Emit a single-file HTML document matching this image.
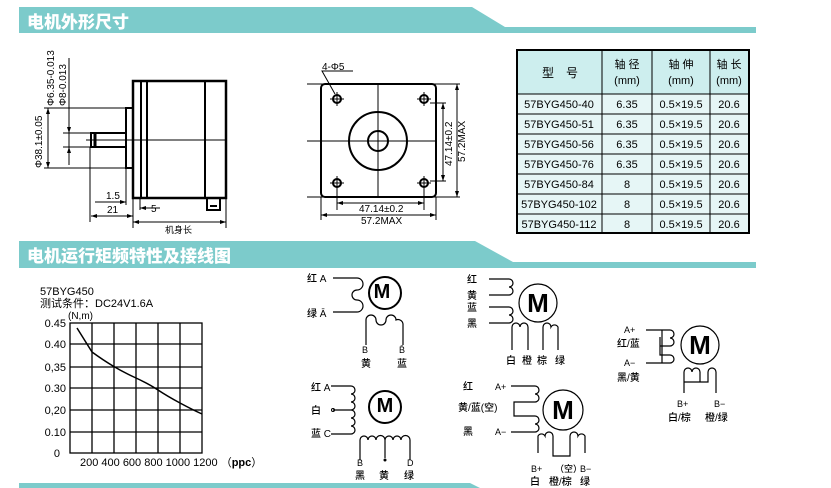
<!DOCTYPE html>
<html><head><meta charset="utf-8"><style>
html,body{margin:0;padding:0;background:#fff;width:831px;height:488px;overflow:hidden}
svg{display:block}
text{font-family:"Liberation Sans","Noto Sans CJK SC",sans-serif;fill:#000}
.h{font-family:"Noto Sans CJK SC","WenQuanYi Zen Hei",sans-serif;font-weight:900;fill:#fff;font-size:17px}
.s{font-size:10px}
.t{font-size:11px}
.w{font-family:"Noto Sans CJK SC",sans-serif;font-weight:500;font-size:10px}
</style></head><body>
<svg width="831" height="488" viewBox="0 0 831 488" xmlns="http://www.w3.org/2000/svg">
<polygon points="19,7 472,7 505,27 756,27 756,33 19,33" fill="#7ccbcb"/>
<text x="27" y="28" class="h">电机外形尺寸</text>
<polygon points="19,241 475,241 513,262 756,262 756,268 19,268" fill="#7ccbcb"/>
<text x="27" y="262" class="h">电机运行矩频特性及接线图</text>
<polygon points="19,483 470,483 480,488 19,488" fill="#7ccbcb"/>

<g stroke="#000" fill="none">
<rect x="133" y="81" width="93" height="117" stroke-width="2.5"/>
<line x1="141" y1="82" x2="141" y2="197" stroke-width="2"/>
<line x1="147" y1="82" x2="147" y2="197" stroke-width="2"/>
<line x1="205" y1="82" x2="205" y2="197" stroke-width="2"/>
<rect x="126" y="108" width="7" height="60" stroke-width="2"/>
<rect x="91" y="133" width="35" height="14" stroke-width="2"/>
<line x1="95" y1="133" x2="95" y2="147" stroke-width="3"/>
<path d="M207 198 v12 h13 v-12 M210 206 h7" stroke-width="2"/>
<line x1="86" y1="140" x2="226" y2="140" stroke-width="1"/>
<g stroke-width="1">
<line x1="44" y1="108" x2="126" y2="108"/><line x1="44" y1="168" x2="126" y2="168"/>
<line x1="48" y1="108" x2="48" y2="168"/>
<line x1="63" y1="133" x2="91" y2="133"/><line x1="63" y1="147" x2="91" y2="147"/>
<line x1="69" y1="58" x2="69" y2="165"/>
<line x1="90" y1="147" x2="90" y2="222"/><line x1="126" y1="168" x2="126" y2="205"/>
<line x1="133" y1="198" x2="133" y2="228"/><line x1="226" y1="198" x2="226" y2="228"/>
<line x1="140" y1="198" x2="140" y2="210"/>
<line x1="95" y1="202" x2="126" y2="202"/>
<line x1="91" y1="216" x2="133" y2="216"/>
<line x1="140" y1="208" x2="160" y2="208"/>
<line x1="133" y1="222" x2="226" y2="222"/>
</g>
<rect x="321" y="84" width="115" height="113" rx="4" stroke-width="2"/>
<line x1="378" y1="84" x2="378" y2="197" stroke-width="1"/>
<line x1="307" y1="141" x2="436" y2="141" stroke-width="1"/>
<circle cx="378" cy="141" r="29" stroke-width="2"/>
<circle cx="378" cy="141" r="10" stroke-width="2"/>
<g stroke-width="2">
<circle cx="337" cy="99" r="4"/><circle cx="424" cy="99" r="4"/>
<circle cx="337" cy="183" r="4"/><circle cx="424" cy="183" r="4"/></g>
<g stroke-width="1">
<path d="M330 99h14M337 92v14M417 99h14M424 92v14M330 183h14M337 176v14M417 183h14M424 176v14"/>
<path d="M353 71 H322 L335 94"/>
<line x1="307" y1="84" x2="460" y2="84"/><line x1="307" y1="197" x2="460" y2="197"/>
<line x1="430" y1="103" x2="446" y2="103"/><line x1="430" y1="181" x2="446" y2="181"/>
<line x1="443" y1="103" x2="443" y2="181"/><line x1="457" y1="84" x2="457" y2="197"/>
<line x1="337" y1="190" x2="337" y2="210"/><line x1="424" y1="190" x2="424" y2="210"/>
<line x1="321" y1="197" x2="321" y2="220"/><line x1="436" y1="197" x2="436" y2="220"/>
<line x1="337" y1="203" x2="424" y2="203"/><line x1="321" y1="215" x2="436" y2="215"/>
</g>
</g>
<g fill="#000">
<path d="M48 108l-2 6h4zM48 168l-2-6h4zM69 133l-2-6h4zM69 147l2 6h-4zM126 202l-6-2v4zM91 216l6-2v4zM133 216l-6-2v4zM140 208l6-2v4zM133 222l6-2v4zM226 222l-6-2v4z"/>
<path d="M443 103l-2 6h4zM443 181l-2-6h4zM457 84l-2 6h4zM457 197l-2-6h4zM337 203l6-2v4zM424 203l-6-2v4zM321 215l6-2v4zM436 215l-6-2v4z"/>
</g>
<g class="s">
<text x="106" y="199">1.5</text><text x="107" y="213">21</text><text x="151" y="212">5</text>
<text x="165" y="233" font-size="9">机身长</text>
<text transform="translate(42,168) rotate(-90)">Φ38.1±0.05</text>
<text transform="translate(54,106) rotate(-90)">Φ6.35-0.013</text>
<text transform="translate(66,106) rotate(-90)">Φ8-0.013</text>
<text x="322" y="70">4-Φ5</text>
<text x="359" y="212">47.14±0.2</text><text x="361" y="224">57.2MAX</text>
<text transform="translate(452,166) rotate(-90)">47.14±0.2</text>
<text transform="translate(465,162) rotate(-90)">57.2MAX</text>
</g>

<rect x="517" y="50" width="232" height="44" fill="#cdeeee"/>
<rect x="517" y="94" width="232" height="139" fill="#e6f6f6"/>
<g stroke="#000" fill="none" stroke-width="1">
<rect x="517" y="50" width="232" height="183" stroke-width="2"/>
<path d="M517 94h232M517 114h232M517 134h232M517 154h232M517 174h232M517 194h232M517 214h232M602 50v183M652 50v183M710 50v183"/>
</g>
<g class="t" text-anchor="middle">
<text x="560" y="77" font-size="12">型　号</text>
<text x="627" y="68">轴 径</text><text x="627" y="84">(mm)</text>
<text x="681" y="68">轴 伸</text><text x="681" y="84">(mm)</text>
<text x="729" y="68">轴 长</text><text x="729" y="84">(mm)</text>
<text x="559" y="108">57BYG450-40</text><text x="559" y="128">57BYG450-51</text><text x="559" y="148">57BYG450-56</text><text x="559" y="168">57BYG450-76</text><text x="559" y="188">57BYG450-84</text><text x="559" y="208">57BYG450-102</text><text x="559" y="228">57BYG450-112</text>
<text x="627" y="108">6.35</text><text x="627" y="128">6.35</text><text x="627" y="148">6.35</text><text x="627" y="168">6.35</text><text x="627" y="188">8</text><text x="627" y="208">8</text><text x="627" y="228">8</text>
<text x="681" y="108">0.5×19.5</text><text x="681" y="128">0.5×19.5</text><text x="681" y="148">0.5×19.5</text><text x="681" y="168">0.5×19.5</text><text x="681" y="188">0.5×19.5</text><text x="681" y="208">0.5×19.5</text><text x="681" y="228">0.5×19.5</text>
<text x="729" y="108">20.6</text><text x="729" y="128">20.6</text><text x="729" y="148">20.6</text><text x="729" y="168">20.6</text><text x="729" y="188">20.6</text><text x="729" y="208">20.6</text><text x="729" y="228">20.6</text>
</g>

<text x="40" y="295" class="t">57BYG450</text>
<text x="40" y="307" class="t">测试条件：DC24V1.6A</text>
<text x="68" y="319" class="s">(N,m)</text>
<g stroke="#000" fill="none" stroke-width="1.3">
<rect x="70" y="323" width="132" height="130"/>
<path d="M92 323v130M114 323v130M136 323v130M158 323v130M180 323v130M70 344h132M70 367h132M70 388h132M70 410h132M70 432h132"/>
<path d="M77 328 L92 352 Q103 360 113 366 T136 378 T158 390 T180 403 T202 414" stroke-width="1.5"/>
</g>
<g class="t" text-anchor="end">
<text x="66" y="327">0.45</text><text x="66" y="348">0.40</text><text x="66" y="371">0,35</text><text x="66" y="392">0.30</text><text x="66" y="414">0,20</text><text x="66" y="436">0.10</text><text x="60" y="457">0</text>
</g>
<text x="80" y="466" class="t">200 400 600 800 1000 1200 （<tspan font-weight="bold">ppc</tspan>）</text>

<g stroke="#000" fill="none" stroke-width="1.2">
<circle cx="385" cy="293" r="16" stroke-width="2"/>
<path d="M333 278h24a6 6 0 0 1 0 12a5 5 0 0 0 0 10a6 6 0 0 1 0 12h-24"/>
<path d="M366 345v-25a5 5 0 0 1 10 0a5 5 0 0 0 10 0a5 5 0 0 1 10 0a5 5 0 0 1 7 4v21"/>
<circle cx="385" cy="407" r="16" stroke-width="2"/>
<path d="M331 386h20a4 4 0 0 1 0 8a4 4 0 0 1 0 8a4 4 0 0 1 0 8h-18M351 410a4 4 0 0 1 0 8a4 4 0 0 1 0 8a4 4 0 0 1 0 8h-20"/>
<path d="M360 460v-20a4 4 0 0 1 8 0a4 4 0 0 1 8 0a4 4 0 0 1 9 0v18M385 440a4 4 0 0 1 8 0a4 4 0 0 1 8 0a4 4 0 0 1 9 0v20"/>
<circle cx="538" cy="303" r="19"/>
<path d="M489 279h20a4 4 0 0 1 0 8a4 4 0 0 1 0 8h-20M489 307h20a4 4 0 0 1 0 8a4 4 0 0 1 0 8h-20"/>
<path d="M512 350v-23a4 4 0 0 1 8 0a4 4 0 0 1 8 0v23M543 350v-23a4 4 0 0 1 8 0a4 4 0 0 1 7 0v23"/>
<circle cx="563" cy="410" r="20"/>
<path d="M511 386h24a4 4 0 0 1 0 8a4 4 0 0 1 0 8h-21v14h21a4 4 0 0 1 0 8a4 4 0 0 1 0 8h-24"/>
<path d="M538 453v-17a4 4 0 0 1 7 0a4 4 0 0 1 8 0v20h17v-20a4 4 0 0 1 8 0a4 4 0 0 1 7 0v17"/>
<circle cx="700" cy="345" r="19"/>
<path d="M646 330h24a4 4 0 0 1 0 8a4 4 0 0 1 0 8h-10v-9M660 346v9h10a4 4 0 0 1 0 8h-24M662 330v33"/>
<path d="M684 393v-21a4 4 0 0 1 8 0a4 4 0 0 1 8 0v10h-16M700 382h8v-10a4 4 0 0 1 8 0v21"/>
</g>
<g fill="#000"><circle cx="333" cy="410" r="1.5" fill="none" stroke="#000"/><circle cx="385" cy="460" r="1.5"/></g>
<g class="w">
<text x="307" y="282">红 A</text><text x="307" y="317">绿 Ā</text>
<text x="362" y="353" font-size="9">B</text><text x="399" y="353" font-size="9">B̄</text>
<text x="361" y="367">黄</text><text x="397" y="367">蓝</text>
<text x="382" y="298" font-size="20" text-anchor="middle" font-family="Liberation Sans" font-weight="bold">M</text>
<text x="311" y="391">红 A</text><text x="311" y="414">白</text><text x="311" y="437">蓝 C</text>
<text x="357" y="466" font-size="9">B</text><text x="407" y="466" font-size="9">D</text>
<text x="355" y="479">黑</text><text x="379" y="479">黄</text><text x="404" y="479">绿</text>
<text x="385" y="412" font-size="20" text-anchor="middle" font-family="Liberation Sans" font-weight="bold">M</text>
<text x="467" y="283">红</text><text x="467" y="299">黄</text><text x="467" y="311">蓝</text><text x="467" y="327">黑</text>
<text x="506" y="364">白</text><text x="522" y="364">橙</text><text x="537" y="364">棕</text><text x="555" y="364">绿</text>
<text x="538" y="312" font-size="26" text-anchor="middle" font-family="Liberation Sans" font-weight="bold">M</text>
<text x="463" y="390">红</text><text x="495" y="390" font-size="9">A+</text>
<text x="458" y="411">黄/蓝(空)</text>
<text x="463" y="435">黑</text><text x="495" y="435" font-size="9">A−</text>
<text x="531" y="472" font-size="9">B+</text><text x="555" y="472" font-size="9">（空）</text><text x="580" y="472" font-size="9">B−</text>
<text x="530" y="485">白</text><text x="549" y="485">橙/棕</text><text x="580" y="485">绿</text>
<text x="563" y="419" font-size="26" text-anchor="middle" font-family="Liberation Sans" font-weight="bold">M</text>
<text x="624" y="333" font-size="9">A+</text><text x="617" y="347">红/蓝</text>
<text x="624" y="366" font-size="9">A−</text><text x="617" y="381">黑/黄</text>
<text x="677" y="407" font-size="9">B+</text><text x="714" y="407" font-size="9">B−</text>
<text x="668" y="421">白/棕</text><text x="705" y="421">橙/绿</text>
<text x="700" y="354" font-size="26" text-anchor="middle" font-family="Liberation Sans" font-weight="bold">M</text>
</g>
</svg>
</body></html>
